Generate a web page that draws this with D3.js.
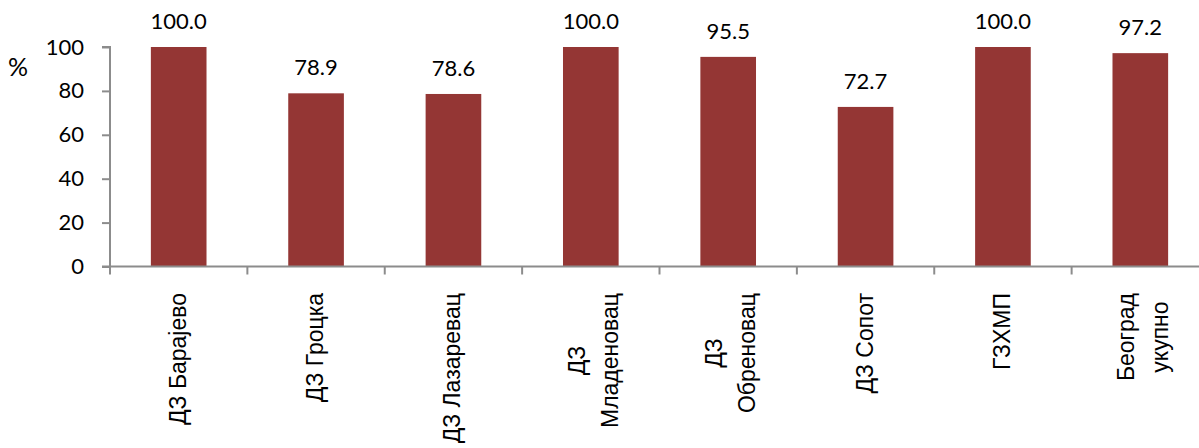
<!DOCTYPE html>
<html>
<head>
<meta charset="utf-8">
<script src="https://cdn.jsdelivr.net/npm/d3@7"></script>
<style>
  html, body { margin: 0; padding: 0; background: #fff; }
  svg { display: block; }
</style>
</head>
<body>
<svg id="chart" width="1199" height="448"></svg>
<script>
// Share of health centres (%), by institution
const categories = [
  ["ДЗ Барајево"],
  ["ДЗ Гроцка"],
  ["ДЗ Лазаревац"],
  ["ДЗ", "Младеновац"],
  ["ДЗ", "Обреновац"],
  ["ДЗ Сопот"],
  ["ГЗХМП"],
  ["Београд", "укупно"]
];
const values = [100.0, 78.9, 78.6, 100.0, 95.5, 72.7, 100.0, 97.2];
const yTicks = [0, 20, 40, 60, 80, 100];
const yUnit = "%";

const svg = d3.select("#chart");
const plotLeft = 110, plotRight = 1209, plotTop = 47, plotBottom = 266.5;
const barColor = "#943634";
const axisColor = "#8c8c8c";
const numFont = "Lato, 'Open Sans', sans-serif";
const labelFont = "'Liberation Sans', Arial, sans-serif";
const numSize = 22;

const keys = categories.map((c, i) => i);
const x = d3.scaleBand().domain(keys).range([plotLeft, plotRight]).padding(0);
const y = d3.scaleLinear().domain([0, 100]).range([plotBottom, plotTop]);
const barW = x.bandwidth() * 0.405;

// bars
svg.append("g").selectAll("rect")
  .data(values)
  .join("rect")
  .attr("x", (d, i) => x(i) + x.bandwidth() / 2 - barW / 2)
  .attr("y", d => y(d))
  .attr("width", barW)
  .attr("height", d => y(0) - y(d))
  .attr("fill", barColor);

// value labels
svg.append("g").selectAll("text")
  .data(values)
  .join("text")
  .attr("x", (d, i) => x(i) + x.bandwidth() / 2)
  .attr("y", d => y(d) - 18)
  .attr("text-anchor", "middle")
  .attr("font-family", numFont)
  .attr("font-size", numSize)
  .attr("fill", "#000")
  .text(d => d.toFixed(1));

// y axis
const yAxis = svg.append("g")
  .attr("transform", `translate(${plotLeft},0)`)
  .call(d3.axisLeft(y).tickValues(yTicks).tickSize(8).tickPadding(18).tickFormat(d3.format("d")));
yAxis.select(".domain").attr("stroke", axisColor).attr("stroke-width", 2).attr("d", `M-8,${plotTop}H0V${plotBottom}`);
yAxis.selectAll(".tick line").attr("stroke", axisColor).attr("stroke-width", 2);
yAxis.selectAll(".tick text")
  .attr("font-family", numFont).attr("font-size", numSize).attr("fill", "#000");

// unit label
svg.append("text")
  .attr("x", 18).attr("y", 76)
  .attr("text-anchor", "middle")
  .attr("font-family", numFont).attr("font-size", 25).attr("fill", "#000")
  .text(yUnit);

// x axis: line with ticks at category boundaries
const xg = svg.append("g");
xg.append("line")
  .attr("x1", plotLeft - 8).attr("x2", 1199)
  .attr("y1", plotBottom).attr("y2", plotBottom)
  .attr("stroke", axisColor).attr("stroke-width", 2);
xg.selectAll("line.b")
  .data(keys.concat([categories.length]))
  .join("line")
  .attr("class", "b")
  .attr("x1", i => plotLeft + i * x.step()).attr("x2", i => plotLeft + i * x.step())
  .attr("y1", plotBottom).attr("y2", plotBottom + 8)
  .attr("stroke", axisColor).attr("stroke-width", 2);

// category labels, rotated, block starts just below the axis
const labelTop = 293;
const lineGap = 33.5;
categories.forEach((lines, i) => {
  const cx = x(i) + x.bandwidth() / 2;
  const g = svg.append("g");
  const texts = lines.map((ln, j) => g.append("text")
    .attr("font-family", labelFont).attr("font-size", 23).attr("fill", "#000")
    .attr("text-anchor", "middle")
    .text(ln));
  const maxW = d3.max(texts, t => t.node().getComputedTextLength());
  const cy = labelTop + maxW / 2;
  const n = lines.length;
  texts.forEach((t, j) => {
    const off = (j - (n - 1) / 2) * lineGap;
    const px = cx + 7 + (n - 1) * 3.5 + off;
    t.attr("transform", `translate(${px},${cy}) rotate(-90)`);
  });
});
</script>
</body>
</html>
